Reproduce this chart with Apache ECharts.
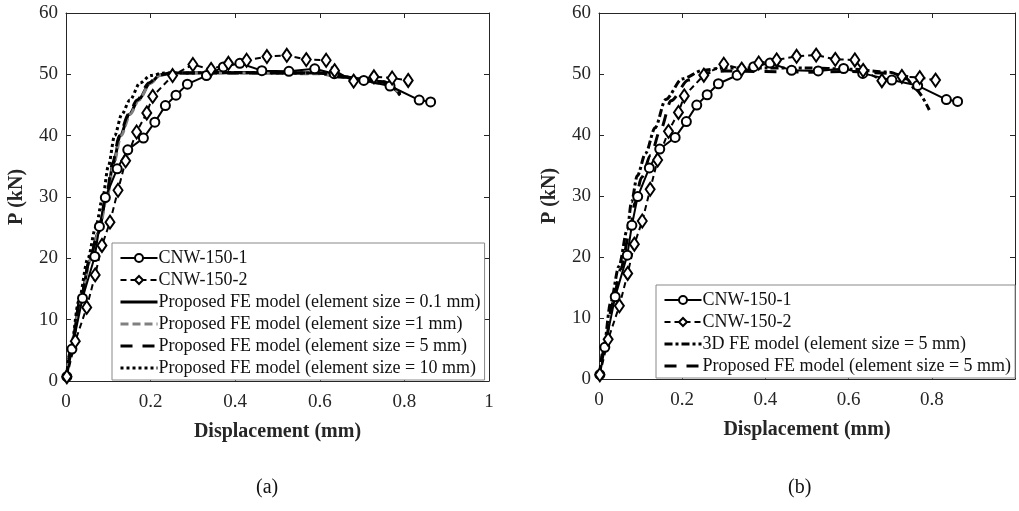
<!DOCTYPE html>
<html>
<head>
<meta charset="utf-8">
<script src="https://cdn.jsdelivr.net/npm/echarts@6/dist/echarts.min.js"></script>
<style>html,body{margin:0;padding:0;background:#fff;}#c{width:1019px;height:511px;}</style>
</head>
<body>
<div id="c"></div>
<script>
// ---- Data (displacement mm, load kN) ----
const xTicks = [0, 0.2, 0.4, 0.6, 0.8, 1];
const yTicks = [0, 10, 20, 30, 40, 50, 60];
const nameExp1 = 'CNW-150-1';
const nameExp2 = 'CNW-150-2';
const nameFE01 = 'Proposed FE model (element size = 0.1 mm)';
const nameFE1 = 'Proposed FE model (element size =1 mm)';
const nameFE5 = 'Proposed FE model (element size = 5 mm)';
const nameFE10 = 'Proposed FE model (element size = 10 mm)';
const name3D = '3D FE model (element size = 5 mm)';

const cnw1 = [[0.002,0.7],[0.014,5.2],[0.039,13.5],[0.068,20.3],[0.079,25.2],[0.093,29.9],[0.121,34.6],[0.146,37.7],[0.183,39.6],[0.21,42.2],[0.235,44.9],[0.26,46.6],[0.287,48.4],[0.332,49.8],[0.372,51.2],[0.411,51.8],[0.463,50.6],[0.527,50.5],[0.588,50.9],[0.634,50.1],[0.704,49.0],[0.766,48.1],[0.835,45.8],[0.862,45.5]];
const cnw2 = [[0.002,0.7],[0.022,6.5],[0.049,12.0],[0.069,17.3],[0.085,22.1],[0.104,25.9],[0.123,31.1],[0.141,35.9],[0.167,40.6],[0.191,43.7],[0.205,46.4],[0.252,49.8],[0.3,51.6],[0.343,50.8],[0.384,51.8],[0.427,52.3],[0.475,52.9],[0.522,53.1],[0.568,52.4],[0.615,52.3],[0.635,50.6],[0.68,48.9],[0.728,49.6],[0.771,49.4],[0.809,49.0]];

const fe01 = [[0,0],[0.013,5.5],[0.033,13],[0.057,19.7],[0.076,24.1],[0.096,30],[0.112,35.5],[0.128,40],[0.15,43.5],[0.171,45.8],[0.199,48.6],[0.222,49.9],[0.25,50.2],[0.4,50.3],[0.6,50.2],[0.648,49.6],[0.75,48.8],[0.79,46.7]];
const fe1 = [[0,0],[0.013,5.4],[0.034,13],[0.058,19.7],[0.077,24.1],[0.097,30],[0.113,35.5],[0.13,40],[0.152,43.5],[0.172,45.8],[0.2,48.6],[0.224,49.9],[0.26,50.2],[0.4,50.2],[0.6,50.1],[0.65,49.5],[0.75,48.5],[0.79,46.9]];
const fe5 = [[0,0],[0.013,5.5],[0.033,13],[0.056,19.7],[0.075,24.1],[0.095,30],[0.11,35.5],[0.126,40],[0.148,43.5],[0.168,45.8],[0.196,48.6],[0.22,49.9],[0.25,50.2],[0.4,50.2],[0.6,50.2],[0.65,49.6],[0.75,48.7],[0.79,46.6]];
const fe10 = [[0,0],[0.012,5.5],[0.03,13],[0.052,20],[0.07,25],[0.087,30],[0.1,35],[0.115,40],[0.132,43.5],[0.151,45.8],[0.175,48.6],[0.2,49.8],[0.23,50.2],[0.4,50.3],[0.6,50.2],[0.65,49.6],[0.75,48.8],[0.79,46.8]];

const fe3D = [[0,0],[0.011,5],[0.028,12.5],[0.048,18.5],[0.068,24.5],[0.078,29],[0.092,33.3],[0.112,37],[0.135,41.2],[0.16,45.8],[0.2,49.2],[0.25,50.6],[0.3,51],[0.4,51],[0.5,51],[0.6,50.8],[0.7,50.3],[0.74,49.2],[0.76,47.5],[0.794,44.1]];
const feProp5 = [[0,0],[0.013,5],[0.033,12.5],[0.052,18],[0.075,24.4],[0.086,28.8],[0.102,33],[0.124,36.7],[0.148,40.9],[0.173,45.6],[0.215,49],[0.26,50.2],[0.3,50.5],[0.4,50.4],[0.5,50.3],[0.6,50.4],[0.7,50.1],[0.75,49.5],[0.77,48.4]];

// ---- Chart ----
const FONT = '"Liberation Serif", "Times New Roman", serif';
const AXC = '#262626';
const chart = echarts.init(document.getElementById('c'), null, {renderer: 'canvas'});

function mainX(gi, hideLast) {
  return {
    type: 'value', gridIndex: gi, min: 0, max: 1, interval: 0.2,
    name: 'Displacement (mm)', nameLocation: 'middle', nameGap: 41,
    nameTextStyle: {fontFamily: FONT, fontSize: 20, fontWeight: 'bold', color: AXC},
    axisLine: {show: true, onZero: false, lineStyle: {color: AXC, width: 1}},
    axisTick: {show: true, inside: true, length: 5, lineStyle: {color: AXC}},
    axisLabel: {fontFamily: FONT, fontSize: 19, color: AXC, margin: 12,
      formatter: v => (hideLast && v === 1) ? '' : String(v)},
    splitLine: {show: false}
  };
}
function mainY(gi) {
  return {
    type: 'value', gridIndex: gi, min: 0, max: 60, interval: 10,
    name: 'P (kN)', nameLocation: 'middle', nameGap: 39,
    nameTextStyle: {fontFamily: FONT, fontSize: 20, fontWeight: 'bold', color: AXC},
    axisLine: {show: true, onZero: false, lineStyle: {color: AXC, width: 1}},
    axisTick: {show: true, inside: true, length: 5, lineStyle: {color: AXC}},
    axisLabel: {fontFamily: FONT, fontSize: 19, color: AXC, margin: 8},
    splitLine: {show: false}
  };
}
function boxX(gi) {
  return {type: 'value', gridIndex: gi, position: 'top', min: 0, max: 1, interval: 0.2,
    axisLine: {show: true, onZero: false, lineStyle: {color: AXC, width: 1}},
    axisTick: {show: true, inside: true, length: 5, lineStyle: {color: AXC}},
    axisLabel: {show: false}, splitLine: {show: false}};
}
function boxY(gi) {
  return {type: 'value', gridIndex: gi, position: 'right', min: 0, max: 60, interval: 10,
    axisLine: {show: true, onZero: false, lineStyle: {color: AXC, width: 1}},
    axisTick: {show: true, inside: true, length: 5, lineStyle: {color: AXC}},
    axisLabel: {show: false}, splitLine: {show: false}};
}

function expSeries(name, data, gi, kind) {
  const isCircle = kind === 'circle';
  return {
    name: name, type: 'line', xAxisIndex: gi, yAxisIndex: gi, data: data, z: 5,
    symbol: isCircle ? 'circle' : 'diamond',
    symbolSize: isCircle ? 9 : [9, 13],
    showAllSymbol: true,
    itemStyle: {color: '#fff', borderColor: '#000', borderWidth: 2},
    lineStyle: {color: '#000', width: 2, type: isCircle ? 'solid' : [6, 4]},
    emphasis: {disabled: true}, animation: false
  };
}
function feSeries(name, data, gi, color, type, width) {
  return {
    name: name, type: 'line', xAxisIndex: gi, yAxisIndex: gi, data: data, z: 3,
    symbol: 'none', smooth: 0.3, smoothMonotone: 'x',
    itemStyle: {color: color},
    lineStyle: {color: color, width: width, type: type},
    emphasis: {disabled: true}, animation: false
  };
}
const noIcon = {color: 'rgba(0,0,0,0)', borderColor: 'rgba(0,0,0,0)', borderWidth: 0};
function legItem(n, isFE) {
  return isFE ? {name: n, itemStyle: noIcon, lineStyle: {width: 3}}
              : {name: n, lineStyle: {width: 2}};
}

const legendBase = {
  orient: 'vertical', itemWidth: 37, itemHeight: 10, itemGap: 4,
  backgroundColor: '#fff', borderColor: '#888', borderWidth: 1,
  borderRadius: 0, padding: [6, 4, 3, 7], z: 10,
  textStyle: {fontFamily: FONT, fontSize: 18, color: '#111', lineHeight: 18, padding: [0,0,0,-4]},
  selectedMode: false
};

const option = {
  animation: false,
  backgroundColor: '#fff',
  grid: [
    {left: 66, top: 13, width: 423, height: 368},
    {left: 599, top: 13, width: 416, height: 366}
  ],
  xAxis: [mainX(0, false), mainX(1, true), boxX(0), boxX(1)],
  yAxis: [mainY(0), mainY(1), boxY(0), boxY(1)],
  legend: [
    Object.assign({}, legendBase, {left: 112, top: 243,
      data: [legItem(nameExp1), legItem(nameExp2), legItem(nameFE01, true), legItem(nameFE1, true), legItem(nameFE5, true), legItem(nameFE10, true)]}),
    Object.assign({}, legendBase, {left: 656, top: 285,
      data: [legItem(nameExp1), legItem(nameExp2), legItem(name3D, true), legItem(nameFE5, true)]})
  ],
  graphic: [
    {type: 'text', left: 256, top: 478, style: {text: '(a)', font: '20px ' + FONT, fill: '#111'}},
    {type: 'text', left: 788, top: 478, style: {text: '(b)', font: '20px ' + FONT, fill: '#111'}}
  ],
  series: [
    feSeries(nameFE01, fe01, 0, '#000', 'solid', 3),
    feSeries(nameFE1, fe1, 0, '#808080', [8, 4], 3),
    feSeries(nameFE5, fe5, 0, '#000', [12, 10], 3),
    feSeries(nameFE10, fe10, 0, '#000', [3, 3], 3),
    expSeries(nameExp1, cnw1, 0, 'circle'),
    expSeries(nameExp2, cnw2, 0, 'diamond'),
    feSeries(name3D, fe3D, 1, '#000', [8, 3, 3, 3], 3),
    feSeries(nameFE5, feProp5, 1, '#000', [12, 10], 3),
    expSeries(nameExp1, cnw1, 1, 'circle'),
    expSeries(nameExp2, cnw2, 1, 'diamond')
  ]
};
chart.setOption(option);
</script>
</body>
</html>
